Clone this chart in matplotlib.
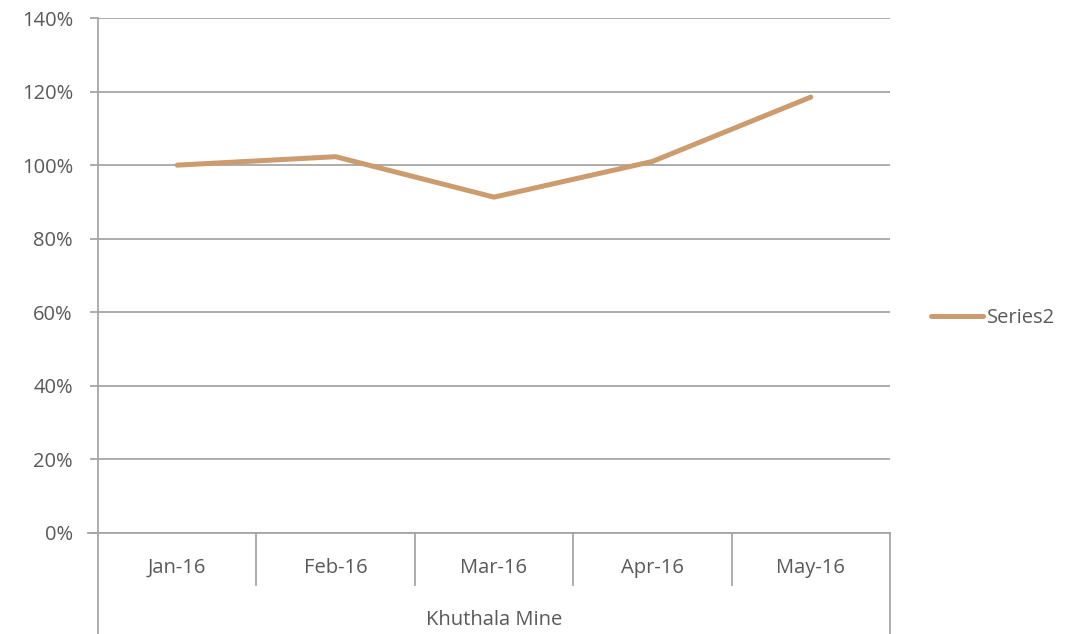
import matplotlib.pyplot as plt
from matplotlib.ticker import PercentFormatter

months = ["Jan-16", "Feb-16", "Mar-16", "Apr-16", "May-16"]
series2 = [100.0, 102.3, 91.3, 101.0, 118.5]
group_label = "Khuthala Mine"
yticks = [0, 20, 40, 60, 80, 100, 120, 140]

plt.rcParams['font.family'] = ['Open Sans', 'DejaVu Sans']
grey = "#a6a6a6"
txt = "#595959"
fs = 14.5

fig = plt.figure(figsize=(10.87, 6.34), dpi=100)
ax = fig.add_axes([98/1087, 1-533/634, 792/1087, 515/634])

x = list(range(len(months)))
ax.plot(x, series2, color="#cc9b6e", linewidth=3.6, solid_capstyle="round", label="Series2")

ax.set_xlim(-0.5, len(months) - 0.5)
ax.set_ylim(0, 140)
ax.set_yticks(yticks)
ax.yaxis.set_major_formatter(PercentFormatter(decimals=0))
ax.grid(axis="y", color=grey, linewidth=1.3)
ax.set_axisbelow(True)
for s in ["top", "right"]:
    ax.spines[s].set_visible(False)
ax.spines["left"].set_color(grey)
ax.spines["bottom"].set_color(grey)
ax.spines["left"].set_linewidth(1.3)
ax.spines["bottom"].set_linewidth(1.3)
ax.tick_params(axis="y", length=6, width=1.3, color=grey, labelsize=fs, labelcolor=txt, pad=12)
ax.set_xticks([])

# multi-level category axis
h1 = 52 / 515
h2 = 101 / 515
for i, m in enumerate(months):
    ax.text(i, -35/515, m, transform=ax.get_xaxis_transform(), ha="center", va="center",
            fontsize=fs, color=txt)
for b in range(1, len(months)):
    ax.plot([b - 0.5, b - 0.5], [0, -h1], transform=ax.get_xaxis_transform(),
            color=grey, linewidth=1.3, clip_on=False)
for b in [-0.5, len(months) - 0.5]:
    ax.plot([b, b], [0, -h2], transform=ax.get_xaxis_transform(),
            color=grey, linewidth=1.3, clip_on=False)
ax.plot([-0.5 - 10/158.4, -0.5], [0, 0], transform=ax.get_xaxis_transform(),
        color=grey, linewidth=1.3, clip_on=False)
ax.text((len(months) - 1) / 2, -87/515, group_label, transform=ax.get_xaxis_transform(),
        ha="center", va="center", fontsize=fs, color=txt)

leg = fig.legend(loc="center left", bbox_to_anchor=(913/1087, 1-318/634), frameon=False,
                 fontsize=fs, handlelength=2.6, handletextpad=0.15, labelcolor=txt)

fig.savefig("out.png", dpi=100)
